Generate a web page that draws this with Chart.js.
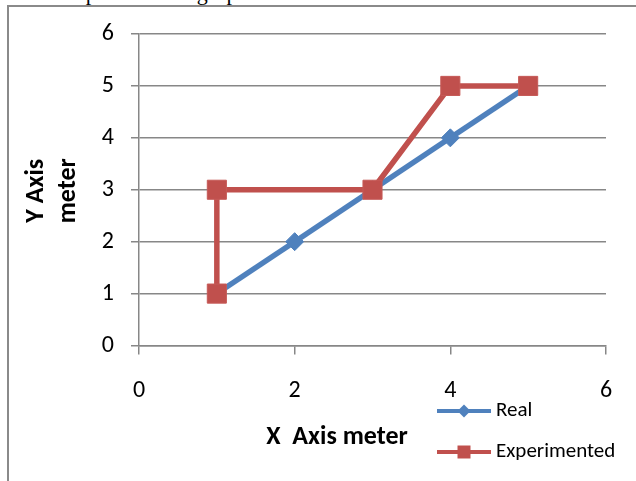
<!DOCTYPE html>
<html>
<head>
<meta charset="utf-8">
<script src="https://cdn.jsdelivr.net/npm/chart.js@4"></script>
<style>
  html, body { margin: 0; padding: 0; background: #fff; width: 636px; height: 481px; overflow: hidden; }
  #caption { position: absolute; left: 60px; top: -18px; font: 22px "Liberation Serif", serif; line-height: 22px; color: #000; white-space: nowrap; letter-spacing: 0.6px; }
  #frame { position: absolute; left: 7px; top: 5px; width: 700px; height: 520px; border-left: 2px solid #8a8a8a; border-top: 2px solid #8a8a8a; }
  #wrap { position: absolute; left: 0; top: 0; width: 636px; height: 481px; }
</style>
</head>
<body>
<div id="caption">Experimented graph</div>
<div id="frame"></div>
<div id="wrap"><canvas id="c" width="636" height="481"></canvas></div>
<script>
// Series: measured positions along both axes (meters)
const seriesNames = ['Real', 'Experimented'];
const realX = [1, 2, 3, 4, 5];
const realY = [1, 2, 3, 4, 5];
const expX  = [1, 1, 3, 4, 5];
const expY  = [1, 3, 3, 5, 5];
const xTicks = [0, 2, 4, 6];
const yTicks = [0, 1, 2, 3, 4, 5, 6];
const xTitle = 'X  Axis meter';
const yTitle = ['Y Axis', 'meter'];

const BLUE = '#4F81BD';
const RED = '#C0504D';
const GRID = '#878787';
const FONT = 'Carlito, Lato, sans-serif';

const pairs = (xs, ys) => xs.map((x, i) => ({ x, y: ys[i] }));

// Axis titles and a legend with line + marker samples
const annotate = {
  id: 'annotate',
  afterDraw(chart) {
    const ctx = chart.ctx;
    const area = chart.chartArea;
    ctx.save();
    ctx.fillStyle = '#000';
    ctx.textAlign = 'center';
    ctx.textBaseline = 'middle';
    ctx.font = 'bold 26px ' + FONT;
    ctx.fillText(xTitle, 337, 437);

    const yMid = (area.top + area.bottom) / 2 + 1;
    [36.5, 68].forEach((cx, i) => {
      ctx.save();
      ctx.translate(cx, yMid);
      ctx.rotate(-Math.PI / 2);
      ctx.fillText(yTitle[i], 0, 0);
      ctx.restore();
    });

    const rows = [411, 452];
    chart.data.datasets.forEach((ds, i) => {
      const y = rows[i];
      ctx.strokeStyle = ds.borderColor;
      ctx.lineWidth = 4;
      ctx.beginPath();
      ctx.moveTo(437, y);
      ctx.lineTo(491, y);
      ctx.stroke();
      ctx.fillStyle = ds.pointBackgroundColor;
      ctx.beginPath();
      if (ds.pointStyle === 'rectRot') {
        const r = 6.5;
        ctx.moveTo(464, y - r);
        ctx.lineTo(464 + r, y);
        ctx.lineTo(464, y + r);
        ctx.lineTo(464 - r, y);
        ctx.closePath();
      } else {
        ctx.rect(464 - 6.5, y - 6.5, 13, 13);
      }
      ctx.fill();
      ctx.fillStyle = '#000';
      ctx.textAlign = 'left';
      ctx.font = '21px ' + FONT;
      ctx.fillText(ds.label, 496, y);
    });
    ctx.restore();
  }
};

new Chart(document.getElementById('c'), {
  type: 'scatter',
  data: {
    datasets: [
      {
        label: seriesNames[0],
        data: pairs(realX, realY),
        showLine: true,
        borderColor: BLUE,
        borderWidth: 5.5,
        borderJoinStyle: 'round',
        pointStyle: 'rectRot',
        pointRadius: 9,
        pointBackgroundColor: BLUE,
        pointBorderColor: BLUE,
        pointBorderWidth: 1,
        order: 2
      },
      {
        label: seriesNames[1],
        data: pairs(expX, expY),
        showLine: true,
        borderColor: RED,
        borderWidth: 5.5,
        borderJoinStyle: 'round',
        pointStyle: 'rect',
        pointRadius: 13.5,
        pointBackgroundColor: RED,
        pointBorderColor: '#c65a57',
        pointBorderWidth: 1,
        order: 1
      }
    ]
  },
  options: {
    responsive: false,
    animation: false,
    devicePixelRatio: 1,
    layout: { padding: { left: 0, top: 34, right: 30, bottom: 0 } },
    plugins: { legend: { display: false }, tooltip: { enabled: false } },
    scales: {
      x: {
        type: 'linear',
        min: xTicks[0],
        max: xTicks[xTicks.length - 1],
        ticks: { stepSize: xTicks[1] - xTicks[0], padding: 22, color: '#000', font: { family: FONT, size: 24 } },
        grid: { drawOnChartArea: false, drawTicks: true, tickLength: 9, color: GRID, lineWidth: 1.5 },
        border: { display: true, color: GRID, width: 1.5 },
        afterFit(s) { s.height = 135.5; }
      },
      y: {
        type: 'linear',
        min: yTicks[0],
        max: yTicks[yTicks.length - 1],
        ticks: { stepSize: yTicks[1] - yTicks[0], padding: 17, color: '#000', font: { family: FONT, size: 24 } },
        grid: { color: GRID, lineWidth: 1.5, tickLength: 8 },
        border: { display: true, color: GRID, width: 1.5 },
        afterFit(s) { s.width = 139; }
      }
    }
  },
  plugins: [annotate]
});
</script>
</body>
</html>
